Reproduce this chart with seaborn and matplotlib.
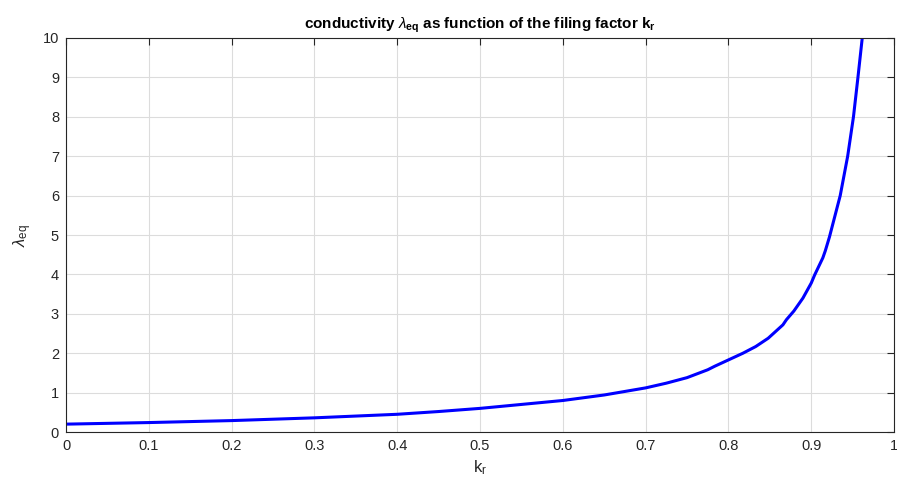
import matplotlib
matplotlib.use('Agg')
import matplotlib.pyplot as plt
import seaborn as sns
import pandas as pd

sns.set_style('white')
plt.rcParams['font.family'] = ['Liberation Sans', 'DejaVu Sans']
plt.rcParams['mathtext.fontset'] = 'custom'
plt.rcParams['mathtext.rm'] = 'Liberation Sans'
plt.rcParams['mathtext.it'] = 'Liberation Sans:italic'
plt.rcParams['mathtext.bf'] = 'Liberation Sans:bold'

# values
kr = [0.0, 0.1, 0.2, 0.3, 0.4, 0.45, 0.5, 0.55, 0.6, 0.65, 0.675, 0.7, 0.725, 0.75,
      0.775, 0.7835, 0.8, 0.8175, 0.833, 0.848, 0.8658, 0.87, 0.879, 0.89, 0.9, 0.904,
      0.914, 0.917, 0.922, 0.935, 0.944, 0.951, 0.9564, 0.9616]
lam = [0.20, 0.24, 0.29, 0.36, 0.45, 0.52, 0.60, 0.70, 0.80, 0.94, 1.03, 1.12, 1.24,
       1.38, 1.58, 1.67, 1.83, 2.0, 2.17, 2.38, 2.72, 2.85, 3.07, 3.4, 3.78, 3.98,
       4.42, 4.6, 4.95, 6.0, 7.0, 8.0, 9.0, 10.0]

df = pd.DataFrame({'kr': kr, 'lam': lam})

fig = plt.figure(figsize=(8.97, 4.84), dpi=100)
ax = fig.add_axes([0.0736, 0.1074, 0.9231, 0.8141])

sns.lineplot(data=df, x='kr', y='lam', ax=ax, color='#0000ff', linewidth=2.2, sort=False)

ax.set_xlim(0, 1)
ax.set_ylim(0, 10)
ax.set_xticks([i / 10 for i in range(11)])
ax.set_xticklabels(['0', '0.1', '0.2', '0.3', '0.4', '0.5', '0.6', '0.7', '0.8', '0.9', '1'])
ax.set_yticks(range(11))

ax.grid(True, color='#dcdcdc', linewidth=0.8)
ax.set_axisbelow(True)
for s in ax.spines.values():
    s.set_color('#262626')
    s.set_linewidth(0.8)
ax.tick_params(direction='in', length=5, width=0.8, color='#262626', labelcolor='#262626',
               labelsize=10.5, top=True, right=True, pad=5)

ax.set_xlabel('k$_\\mathregular{r}$', fontsize=12, color='#262626', labelpad=4)
ax.set_ylabel('$\\lambda_\\mathregular{eq}$', fontsize=12, color='#262626', labelpad=6)
ax.set_title('conductivity $\\lambda_{\\mathbf{eq}}$ as function of the filing factor k$_{\\mathbf{r}}$',
             fontsize=11, fontweight='bold', color='black', pad=7)

fig.savefig('out.png', dpi=100)
